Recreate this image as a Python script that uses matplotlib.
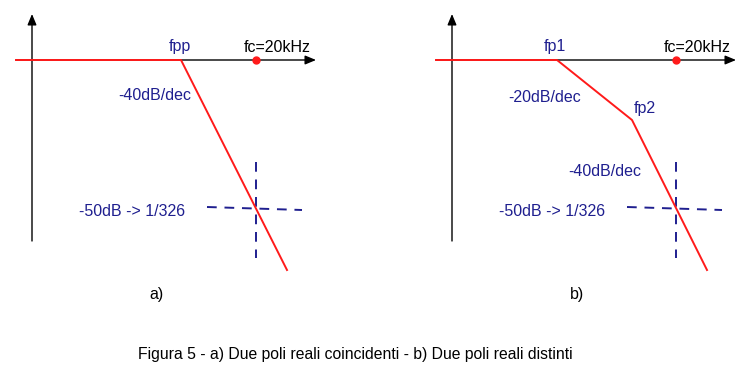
import matplotlib.pyplot as plt

plt.rcParams['font.family'] = ['Liberation Sans', 'DejaVu Sans']

# diagram coordinates (pixel space of the drawing, y grows downward)
axis_a = {'x0': 16, 'x1': 316, 'y': 60, 'vx': 32, 'vtop': 14, 'vbot': 241}
axis_b = {'x0': 436, 'x1': 736, 'y': 60, 'vx': 452, 'vtop': 14, 'vbot': 241}

# asymptotic responses
resp_a_x = [16, 181, 287]
resp_a_y = [60, 60, 270]
resp_b_x = [436, 557, 632, 707]
resp_b_y = [60, 60, 120, 270]

# fc = 20kHz marker and -50dB crosshair
fc_x = [256, 676]
cross_v = [(162, 258), (162, 258)]
cross_h = [((207, 207), (302, 210)), ((627, 207), (722, 210))]

labels_blue = [
    ('fpp', 180, 47, 'center'),
    ('-40dB/dec', 191, 96, 'right'),
    ('-50dB -> 1/326', 185, 211, 'right'),
    ('fp1', 555, 47, 'center'),
    ('-20dB/dec', 581, 97, 'right'),
    ('fp2', 645, 108, 'center'),
    ('-40dB/dec', 641, 171, 'right'),
    ('-50dB -> 1/326', 605, 211, 'right'),
]
labels_black = [('fc=20kHz', 277, 47), ('fc=20kHz', 697, 47), ('a)', 157, 295), ('b)', 577, 295)]
caption = 'Figura 5 - a) Due poli reali coincidenti - b) Due poli reali distinti'

red = '#ff1a1a'
navy = '#1f1f8f'

fig = plt.figure(figsize=(7.51, 3.78), dpi=100)
ax = fig.add_axes([0, 0, 1, 1])
ax.set_xlim(0, 751)
ax.set_ylim(378, 0)
ax.axis('off')

#axes with arrows
arr = dict(arrowstyle='-|>,head_length=0.65,head_width=0.27', color='black', lw=1.0,
           mutation_scale=10, shrinkA=0, shrinkB=0)
for a in (axis_a, axis_b):
    ax.annotate('', xy=(a['x1'], a['y']), xytext=(a['x0'], a['y']), arrowprops=arr)
    ax.annotate('', xy=(a['vx'], a['vtop']), xytext=(a['vx'], a['vbot']), arrowprops=arr)

ax.plot(resp_a_x, resp_a_y, color=red, lw=1.4, zorder=3)
ax.plot(resp_b_x, resp_b_y, color=red, lw=1.4, zorder=3)

for i in range(2):
    ax.plot([fc_x[i], fc_x[i]], cross_v[i], color=navy, lw=1.4, dashes=(5, 4))
    (hx0, hy0), (hx1, hy1) = cross_h[i]
    ax.plot([hx0, hx1], [hy0, hy1], color=navy, lw=1.4, dashes=(5, 4))
    ax.plot(fc_x[i], 60, 'o', color=red, ms=5, zorder=4)

for t, x, y, ha in labels_blue:
    ax.text(x, y, t, color=navy, fontsize=11.5, ha=ha, va='center')
for t, x, y in labels_black:
    ax.text(x, y, t, color='black', fontsize=11.5, ha='center', va='center')

ax.text(355, 354, caption, color='black', fontsize=11.3, ha='center', va='center')

fig.savefig('out.png', dpi=100)
